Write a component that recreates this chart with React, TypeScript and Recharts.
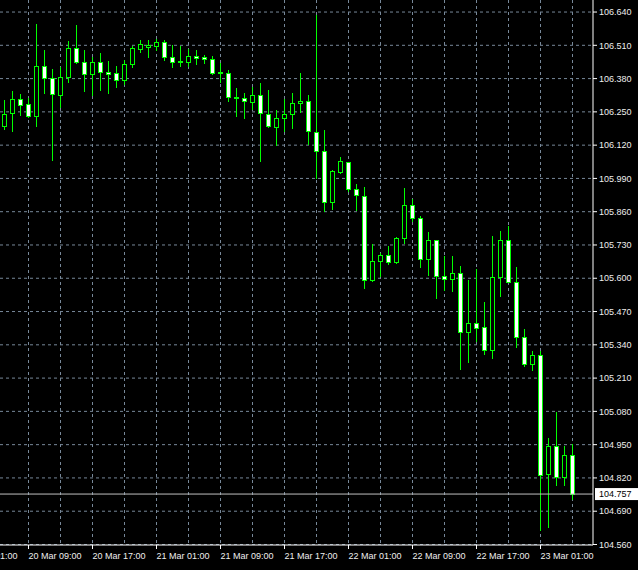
import {
  ComposedChart,
  Bar,
  XAxis,
  YAxis,
  CartesianGrid,
  ReferenceLine
} from 'recharts';

// hourly candles, 20 Mar 06:00 .. 23 Mar 05:00
const opens = [
  106.194, 106.246, 106.301, 106.279, 106.233, 106.430, 106.383, 106.317, 106.386, 106.500,
  106.443, 106.398, 106.444, 106.406, 106.400, 106.375, 106.437, 106.497, 106.505, 106.509,
  106.524, 106.463, 106.448, 106.446, 106.470, 106.464, 106.457, 106.405, 106.401, 106.309,
  106.303, 106.290, 106.315, 106.243, 106.192, 106.226, 106.241, 106.283, 106.294, 106.173,
  106.096, 105.896, 106.016, 106.055, 105.948, 105.923, 105.593, 105.667, 105.692, 105.662,
  105.757, 105.886, 105.834, 105.677, 105.750, 105.609, 105.599, 105.620, 105.392, 105.425,
  105.408, 105.319, 105.605, 105.750, 105.586, 105.371, 105.265, 105.301, 104.835, 104.945,
  104.825, 104.910
];
const highs = [
  106.298, 106.333, 106.320, 106.306, 106.595, 106.490, 106.418, 106.427, 106.525, 106.591,
  106.490, 106.463, 106.480, 106.450, 106.431, 106.453, 106.509, 106.532, 106.529, 106.535,
  106.529, 106.513, 106.509, 106.496, 106.490, 106.474, 106.468, 106.441, 106.415, 106.342,
  106.324, 106.349, 106.363, 106.337, 106.258, 106.301, 106.324, 106.402, 106.316, 106.629,
  106.181, 106.021, 106.072, 106.056, 105.968, 105.958, 105.734, 105.699, 105.727, 105.762,
  105.951, 105.911, 105.844, 105.782, 105.751, 105.688, 105.688, 105.649, 105.592, 105.638,
  105.508, 105.764, 105.786, 105.803, 105.645, 105.402, 105.317, 105.314, 104.975, 105.076,
  104.945, 104.952
];
const lows = [
  106.183, 106.177, 106.238, 106.230, 106.194, 106.323, 106.063, 106.268, 106.366, 106.441,
  106.333, 106.316, 106.337, 106.324, 106.346, 106.359, 106.424, 106.483, 106.463, 106.493,
  106.454, 106.424, 106.431, 106.431, 106.437, 106.439, 106.398, 106.366, 106.291, 106.235,
  106.225, 106.262, 106.059, 106.190, 106.121, 106.177, 106.186, 106.251, 106.126, 105.992,
  105.864, 105.869, 106.010, 105.942, 105.868, 105.560, 105.590, 105.607, 105.656, 105.658,
  105.736, 105.823, 105.645, 105.614, 105.521, 105.555, 105.549, 105.246, 105.271, 105.353,
  105.306, 105.287, 105.529, 105.584, 105.330, 105.256, 105.242, 104.617, 104.629, 104.793,
  104.793, 104.739
];
const closes = [
  106.242, 106.301, 106.277, 106.233, 106.430, 106.383, 106.319, 106.387, 106.500, 106.444,
  106.398, 106.446, 106.405, 106.398, 106.375, 106.437, 106.500, 106.516, 106.513, 106.524,
  106.463, 106.445, 106.443, 106.470, 106.461, 106.456, 106.402, 106.401, 106.307, 106.303,
  106.291, 106.316, 106.244, 106.194, 106.226, 106.242, 106.285, 106.294, 106.174, 106.096,
  105.896, 106.020, 106.059, 105.947, 105.925, 105.593, 105.667, 105.692, 105.662, 105.757,
  105.886, 105.835, 105.675, 105.750, 105.609, 105.599, 105.620, 105.392, 105.425, 105.404,
  105.319, 105.606, 105.750, 105.586, 105.371, 105.265, 105.301, 104.831, 104.945, 104.825,
  104.910, 104.757
];

const bid = 104.757;

const xTickIdx = [-5, 3, 11, 19, 27, 35, 43, 51, 59, 67];
const xTickLabels = [
  '20 Mar 01:00', '20 Mar 09:00', '20 Mar 17:00', '21 Mar 01:00', '21 Mar 09:00',
  '21 Mar 17:00', '22 Mar 01:00', '22 Mar 09:00', '22 Mar 17:00', '23 Mar 01:00'
];
const gridIdx = [3, 7, 11, 15, 19, 23, 27, 31, 35, 39, 43, 47, 51, 55, 59, 63, 67, 71];
const yTicks = [
  106.64, 106.51, 106.38, 106.25, 106.12, 105.99, 105.86, 105.73, 105.6,
  105.47, 105.34, 105.21, 105.08, 104.95, 104.82, 104.69, 104.56
];

const GREEN = '#00ff00';
const GRID = '#778899';
const TEXT = '#eeeeee';
const FONT = '"Liberation Sans", Arial, sans-serif';

const data = opens.map((open, i) => ({
  i,
  open,
  high: highs[i],
  low: lows[i],
  close: closes[i],
  range: [lows[i], highs[i]]
}));

const Candle = (props: any) => {
  const { x, y, width, height, payload } = props;
  const { open, close, high, low } = payload;
  const span = high - low;
  const pix = (v: number) => (span > 0 ? y + ((high - v) / span) * height : y);
  const cx = Math.floor(x + width / 2) + 0.5;
  const top = Math.round(pix(Math.max(open, close))) + 0.5;
  const bot = Math.round(pix(Math.min(open, close))) + 0.5;
  const bear = close < open;
  return (
    <g>
      <line x1={cx} x2={cx} y1={Math.round(y)} y2={Math.round(y + height) + 1} stroke={GREEN} />
      <rect
        x={cx - 2}
        y={top}
        width={4}
        height={Math.max(bot - top, 0)}
        fill={bear ? '#ffffff' : '#000000'}
        stroke={GREEN}
      />
    </g>
  );
};

const XTick = ({ x, y, payload }: any) => {
  const idx = xTickIdx.indexOf(payload.value);
  return (
    <text x={x} y={y} dy="0.71em" fill={TEXT} fontSize={9} fontFamily={FONT} textAnchor="start">
      {xTickLabels[idx]}
    </text>
  );
};

const BidLabel = ({ viewBox }: any) => {
  if (!viewBox) return null;
  const left = viewBox.x + viewBox.width + 2;
  return (
    <g>
      <rect x={left} y={viewBox.y - 6} width={43} height={12} fill="#ffffff" />
      <text x={left + 4} y={viewBox.y} dy="0.355em" fill="#000000" fontSize={9} fontFamily={FONT}>
        {bid.toFixed(3)}
      </text>
    </g>
  );
};

export default function App() {
  return (
    <div style={{ position: 'absolute', left: 0, top: 0, width: 638, height: 570, background: '#000' }}>
      <ComposedChart
        width={638}
        height={570}
        data={data}
        margin={{ top: 0, right: 0, bottom: 0, left: 0 }}
      >
        <CartesianGrid
          stroke={GRID}
          strokeDasharray="3 3"
          verticalValues={gridIdx}
          horizontalValues={yTicks}
        />
        <XAxis
          type="number"
          dataKey="i"
          domain={[-0.5625, 73.5625]}
          allowDataOverflow
          ticks={xTickIdx}
          interval={0}
          height={25}
          tickSize={4}
          tickMargin={4}
          axisLine={{ stroke: '#ffffff' }}
          tickLine={{ stroke: '#ffffff' }}
          tick={<XTick />}
        />
        <YAxis
          orientation="right"
          type="number"
          domain={[104.558, 106.687]}
          allowDataOverflow
          ticks={yTicks}
          interval={0}
          width={45}
          tickSize={4}
          tickMargin={2}
          axisLine={{ stroke: '#ffffff' }}
          tickLine={{ stroke: '#ffffff' }}
          tick={{ fill: TEXT, fontSize: 9, fontFamily: FONT }}
          tickFormatter={(v: number) => v.toFixed(3)}
        />
        <ReferenceLine y={bid} stroke="#c0c0c0" label={<BidLabel />} />
        <Bar dataKey="range" barSize={5} shape={<Candle />} isAnimationActive={false} />
      </ComposedChart>
    </div>
  );
}
